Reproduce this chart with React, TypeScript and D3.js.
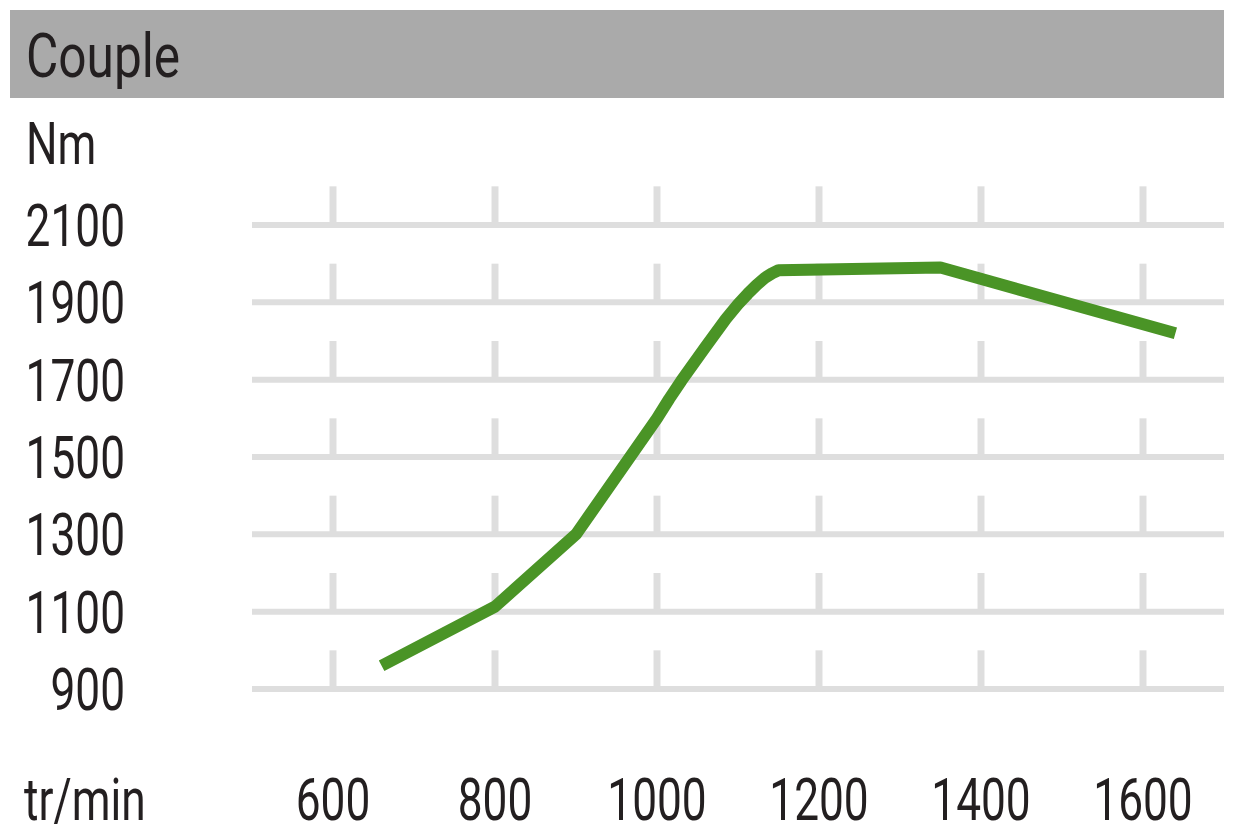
import React from "react";
import * as d3 from "d3";

const title = "Couple";
const yUnit = "Nm";
const xUnit = "tr/min";
const xTicks = [600, 800, 1000, 1200, 1400, 1600];
const yTicks = [900, 1100, 1300, 1500, 1700, 1900, 2100];
const rpm = [660, 800, 900, 1000, 1015, 1030, 1060, 1085, 1100, 1112, 1123, 1133, 1142, 1150, 1350, 1640];
const torque = [960, 1113, 1300, 1600, 1650, 1697, 1785, 1857, 1895, 1922, 1945, 1963, 1975, 1983, 1990, 1820];

const W = 1247;
const H = 836;
const FONT = "Roboto, 'Noto Sans', sans-serif";
const TEXT = "#231f20";
const SX = 0.75;

export default function App() {
  const x = d3.scaleLinear().domain([500, 1700]).range([252, 1224]);
  const y = d3.scaleLinear().domain([900, 2100]).range([689, 225]);
  const pts = rpm.map((r, i) => [r, torque[i]] as [number, number]);
  const line = d3
    .line<[number, number]>()
    .x((d) => x(d[0]))
    .y((d) => y(d[1]))
    .curve(d3.curveLinear);

  const T = (props: { x: number; y: number; anchor?: string; size?: number; sx?: number; children: React.ReactNode }) => (
    <text
      transform={`translate(${props.x},${props.y}) scale(${props.sx || SX},1)`}
      textAnchor={props.anchor || "start"}
      fontFamily={FONT}
      fontSize={props.size || 59}
      fill={TEXT}
    >
      {props.children}
    </text>
  );

  return (
    <svg
      width={W}
      height={H}
      style={{ position: "absolute", left: 0, top: 0, background: "#fff" }}
    >
      <rect x={10} y={10} width={1214} height={88} fill="#aaaaaa" />
      <T x={26} y={77} size={62} sx={0.8}>{title}</T>
      <T x={26} y={164}>{yUnit}</T>
      {yTicks.map((v) => (
        <line key={"h" + v} x1={252} x2={1224} y1={y(v)} y2={y(v)} stroke="#dedede" strokeWidth={6} />
      ))}
      {xTicks.map((t) =>
        yTicks.map((v) => (
          <line
            key={"v" + t + "-" + v}
            x1={x(t)}
            x2={x(t)}
            y1={y(v)}
            y2={y(v + 100)}
            stroke="#dedede"
            strokeWidth={7}
          />
        ))
      )}
      {yTicks.map((v) => (
        <T key={"yl" + v} x={125} y={y(v) + 21} anchor="end">
          {v}
        </T>
      ))}
      <T x={24} y={820}>{xUnit}</T>
      {xTicks.map((t) => (
        <T key={"xl" + t} x={x(t)} y={820} anchor="middle">
          {t}
        </T>
      ))}
      <path d={line(pts) || ""} fill="none" stroke="#4a9426" strokeWidth={12} strokeLinejoin="round" strokeLinecap="butt" />
    </svg>
  );
}
